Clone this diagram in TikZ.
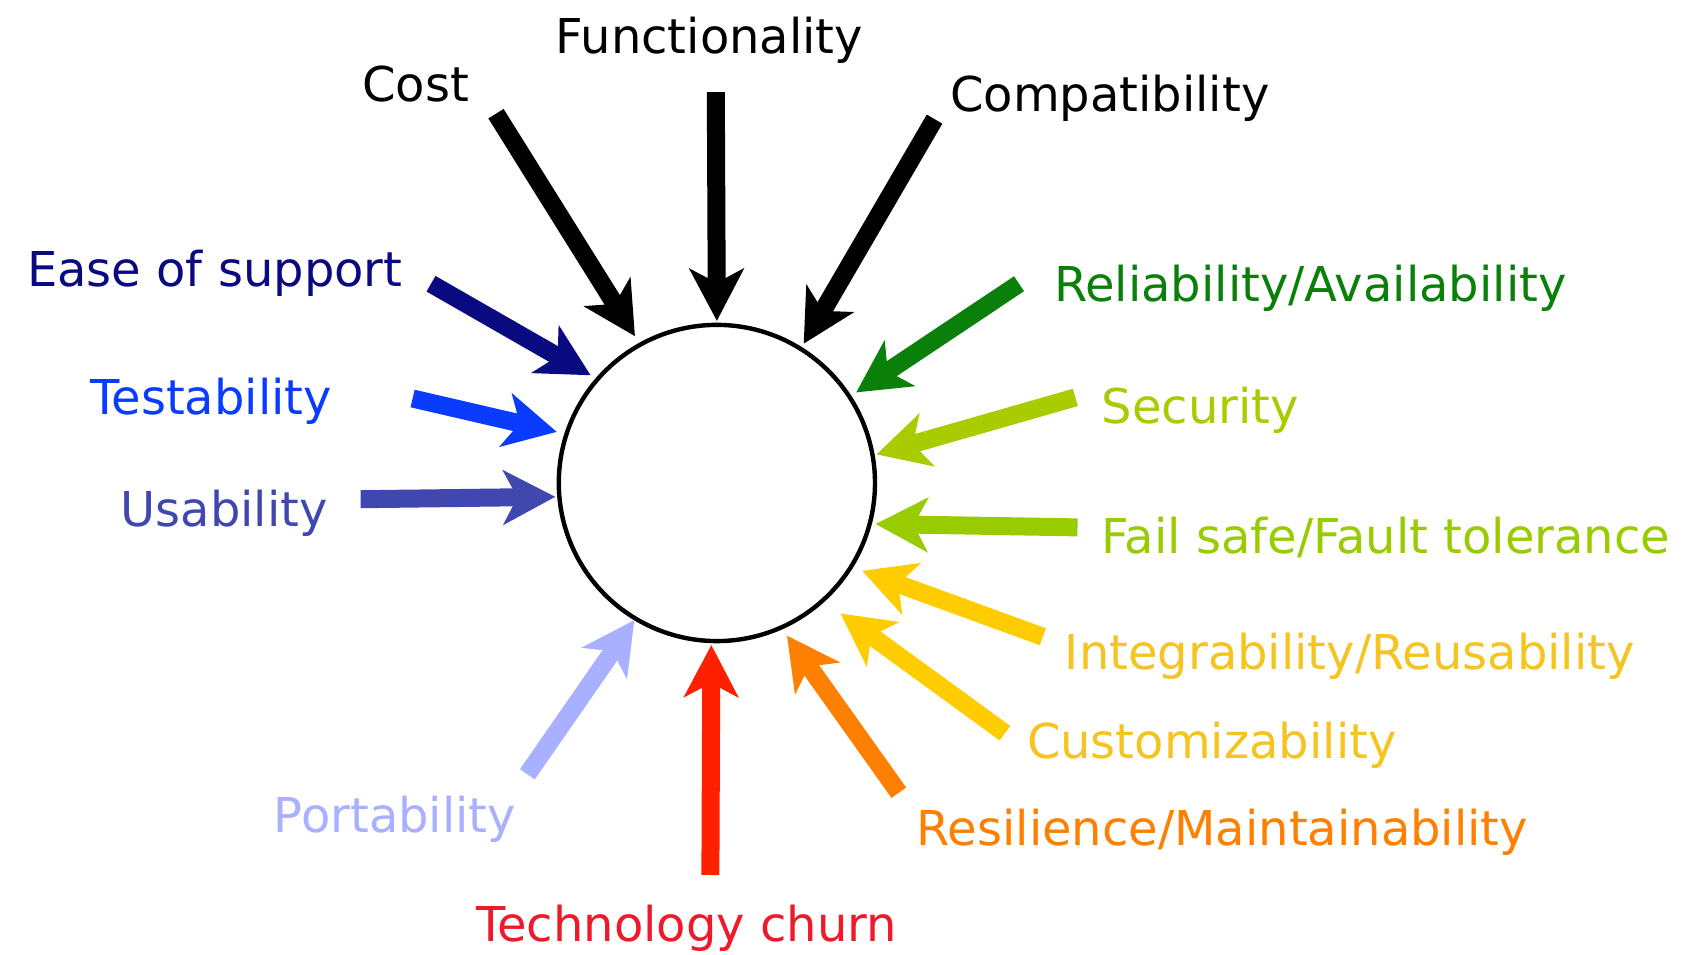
\documentclass[tikz,border=0pt]{standalone}
\usepackage{fontspec}
\setmainfont{DejaVu Sans}
\usetikzlibrary{arrows.meta}
\definecolor{cnavy}{HTML}{0A0A80}
\definecolor{cblue}{HTML}{0A3CFF}
\definecolor{cslate}{HTML}{4048B0}
\definecolor{cgreen}{HTML}{0A800A}
\definecolor{clime}{HTML}{A8CC00}
\definecolor{cyg}{HTML}{99CC00}
\definecolor{cgold}{HTML}{FFCC00}
\definecolor{cgoldt}{HTML}{F5C420}
\definecolor{corange}{HTML}{FF8000}
\definecolor{cred}{HTML}{FF2000}
\definecolor{credt}{HTML}{EE1A2A}
\definecolor{clav}{HTML}{A8B0FF}
\begin{document}
\begin{tikzpicture}[x=0.54145pt,y=-0.54145pt,
  lbl/.style={inner sep=0pt, font=\fontsize{24pt}{28pt}\selectfont},
  arr/.style={line width=9pt, -{Stealth[length=26pt,width=27pt,inset=7pt]}, shorten >=2pt}]
\useasboundingbox (0,0) rectangle (1568,881);
\node[circle, draw, line width=2.2pt, minimum size=158.1pt, outer sep=0pt, inner sep=0pt] (c) at (662,446) {};

% labels
\node[lbl, anchor=base] (lCost) at (384,94) {Cost};
\node[lbl, anchor=base] (lFunc) at (655,49) {Functionality};
\node[lbl, anchor=base west] (lComp) at (877,103) {Compatibility};
\node[lbl, anchor=base east, text=cnavy] (lEase) at (372,265) {Ease of support};
\node[lbl, anchor=base east, text=cblue] (lTest) at (307,383) {Testability};
\node[lbl, anchor=base east, text=cslate] (lUsab) at (303,486) {Usability};
\node[lbl, anchor=base west, text=cgreen] (lRel) at (973,278) {Reliability/Availability};
\node[lbl, anchor=base west, text=clime] (lSec) at (1017,391) {Security};
\node[lbl, anchor=base west, text=cyg] (lFail) at (1017,511) {Fail safe/Fault tolerance};
\node[lbl, anchor=base west, text=cgoldt] (lInt) at (983,618) {Integrability/Reusability};
\node[lbl, anchor=base west, text=cgoldt] (lCust) at (948,700) {Customizability};
\node[lbl, anchor=base west, text=corange] (lRes) at (846,781) {Resilience/Maintainability};
\node[lbl, anchor=base east, text=clav] (lPort) at (477,769) {Portability};
\node[lbl, anchor=base, text=credt] (lTech) at (634,869) {Technology churn};

% arrow tails
\coordinate (sCost) at (458,105);
\coordinate (sFunc) at (661,85);
\coordinate (sComp) at (863,110);
\coordinate (sEase) at (398,262);
\coordinate (sTest) at (381,368);
\coordinate (sUsab) at (333,461);
\coordinate (sRel) at (941,262);
\coordinate (sSec) at (993,367);
\coordinate (sFail) at (995,487);
\coordinate (sInt) at (963,588);
\coordinate (sCust) at (928,677);
\coordinate (sRes) at (830,732);
\coordinate (sTech) at (656,808);
\coordinate (sPort) at (487,715);

% arrows
\draw[arr, black, shorten >=5pt] (sCost) -- (c.119.5);
\draw[arr, black] (sFunc) -- (c.90);
\draw[arr, black, shorten >=3pt] (sComp) -- (c.58.6);
\draw[arr, cnavy, shorten >=4pt] (sEase) -- (c.139.8);
\draw[arr, cblue, shorten >=5pt] (sTest) -- (c.162.8);
\draw[arr, cslate, shorten >=2pt] (sUsab) -- (c.185.7);
\draw[arr, cgreen, shorten >=4pt] (sRel) -- (c.33.3);
\draw[arr, clime, shorten >=2pt] (sSec) -- (c.10);
\draw[arr, cyg, shorten >=3pt] (sFail) -- (c.-15.7);
\draw[arr, cgold, shorten >=6pt] (sInt) -- (c.-32.3);
\draw[arr, cgold, shorten >=11pt] (sCust) -- (c.-48.9);
\draw[arr, corange, shorten >=5pt] (sRes) -- (c.-66.8);
\draw[arr, cred, shorten >=2pt] (sTech) -- (c.-92.3);
\draw[arr, clav, shorten >=1pt] (sPort) -- (c.-121.8);
\end{tikzpicture}
\end{document}
